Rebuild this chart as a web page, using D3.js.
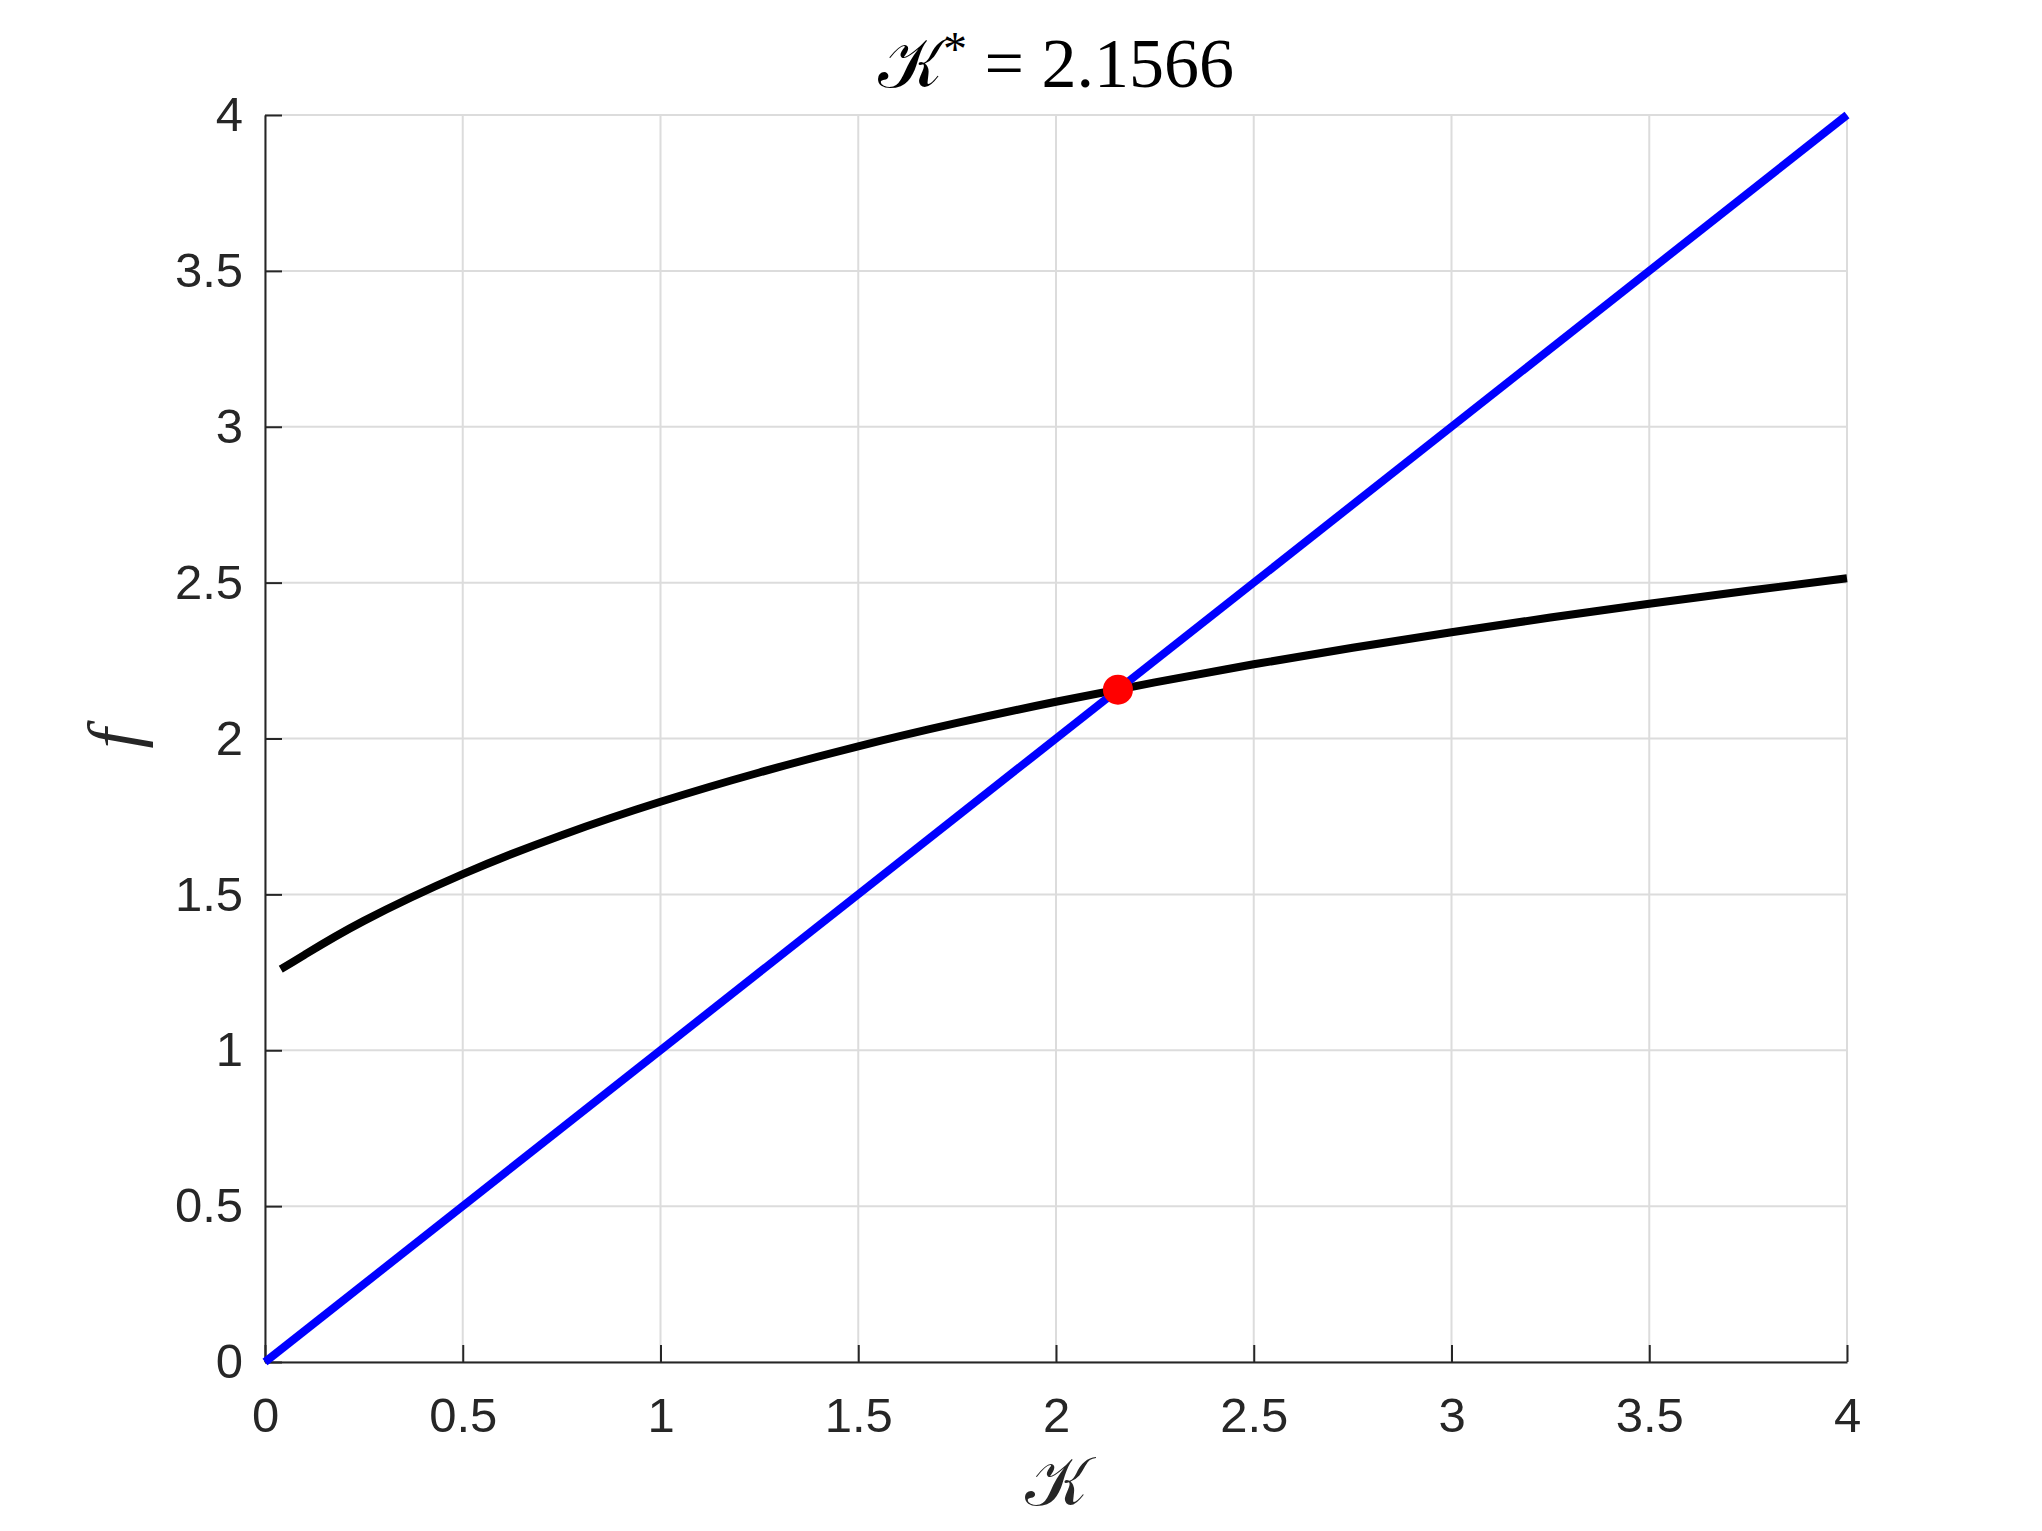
<!DOCTYPE html>
<html><head><meta charset="utf-8">
<script src="https://cdn.jsdelivr.net/npm/d3@7"></script>
<style>body{margin:0;background:#fff}</style>
</head><body>
<svg id="chart" width="2042" height="1531"></svg>
<script>
// ---- data ----
const curveK = [0.04, 0.1, 0.25, 0.5, 0.75, 1, 1.25, 1.5, 1.75, 2, 2.25, 2.5, 2.75, 3, 3.25, 3.5, 3.75, 4];
const curveF = [1.26, 1.306, 1.415, 1.565, 1.69, 1.797, 1.891, 1.975, 2.05, 2.118, 2.18, 2.238, 2.291, 2.341, 2.388, 2.432, 2.474, 2.514];
const lineK = [0, 4];
const lineF = [0, 4];
const pointK = [2.1566];
const pointF = [2.1566];
const xTicks = [0, 0.5, 1, 1.5, 2, 2.5, 3, 3.5, 4];
const yTicks = [0, 0.5, 1, 1.5, 2, 2.5, 3, 3.5, 4];
const titleValue = "2.1566";

// ---- layout ----
const svg = d3.select("#chart");
const L = 265, R = 1847, T = 115, B = 1362;
const x = d3.scaleLinear().domain([0, 4]).range([L, R]);
const y = d3.scaleLinear().domain([0, 4]).range([B, T]);
const axisColor = "#262626";
const tickFont = "'Liberation Sans', Arial, Helvetica, sans-serif";
const mathFont = "'Liberation Serif', 'DejaVu Serif', serif";
const scriptFont = "'DejaVu Serif', 'DejaVu Sans', 'Noto Sans', serif";

svg.append("rect").attr("width", 2042).attr("height", 1531).attr("fill", "#fff");

// grid
const grid = svg.append("g").attr("stroke", "#dcdcdc").attr("stroke-width", 2);
grid.selectAll("line.v").data(xTicks).join("line").attr("class", "v")
  .attr("x1", d => x(d)).attr("x2", d => x(d)).attr("y1", T).attr("y2", B);
grid.selectAll("line.h").data(yTicks).join("line").attr("class", "h")
  .attr("y1", d => y(d)).attr("y2", d => y(d)).attr("x1", L).attr("x2", R);

// axes
const fmt = d3.format("");
const xAxis = svg.append("g").attr("transform", `translate(0,${B})`)
  .call(d3.axisBottom(x).tickValues(xTicks).tickFormat(fmt).tickSizeInner(-17).tickSizeOuter(0).tickPadding(35));
const yAxis = svg.append("g").attr("transform", `translate(${L},0)`)
  .call(d3.axisLeft(y).tickValues(yTicks).tickFormat(fmt).tickSizeInner(-17).tickSizeOuter(0).tickPadding(22));
[xAxis, yAxis].forEach(g => {
  g.select(".domain").attr("stroke", axisColor).attr("stroke-width", 2);
  g.selectAll(".tick line").attr("stroke", axisColor).attr("stroke-width", 2);
  g.selectAll(".tick text").attr("fill", axisColor).style("font-family", tickFont).style("font-size", "49px");
});

// data lines
const curvePts = curveK.map((k, i) => [k, curveF[i]]);
const linePts = lineK.map((k, i) => [k, lineF[i]]);
svg.append("path").attr("d", d3.line().x(d => x(d[0])).y(d => y(d[1])).curve(d3.curveNatural)(curvePts))
  .attr("fill", "none").attr("stroke", "#000").attr("stroke-width", 8);
svg.append("path").attr("d", d3.line().x(d => x(d[0])).y(d => y(d[1]))(linePts))
  .attr("fill", "none").attr("stroke", "#0000ff").attr("stroke-width", 8);
svg.selectAll("circle.pt").data(pointK.map((k, i) => [k, pointF[i]])).join("circle")
  .attr("class", "pt").attr("cx", d => x(d[0])).attr("cy", d => y(d[1])).attr("r", 15).attr("fill", "#ff0000");

// title
const title = svg.append("text").attr("x", (L + R) / 2).attr("y", 87)
  .attr("text-anchor", "middle").attr("fill", "#000")
  .style("font-family", mathFont).style("font-size", "70px");
title.append("tspan").style("font-family", scriptFont).style("font-style", "normal").text("\u{1D4A6}");
title.append("tspan").attr("dy", -22).style("font-size", "48px").text("*");
title.append("tspan").attr("dy", 22).text(" = " + titleValue);

// x label
svg.append("text").attr("x", (L + R) / 2).attr("y", 1505).attr("text-anchor", "middle")
  .attr("fill", axisColor).style("font-family", scriptFont).style("font-size", "68px").text("\u{1D4A6}");

// y label
svg.append("text").attr("transform", `translate(138,${(T + B) / 2}) rotate(-90)`)
  .attr("text-anchor", "middle").attr("fill", axisColor)
  .style("font-family", mathFont).style("font-style", "italic").style("font-size", "72px").text("f");
</script>
</body></html>
